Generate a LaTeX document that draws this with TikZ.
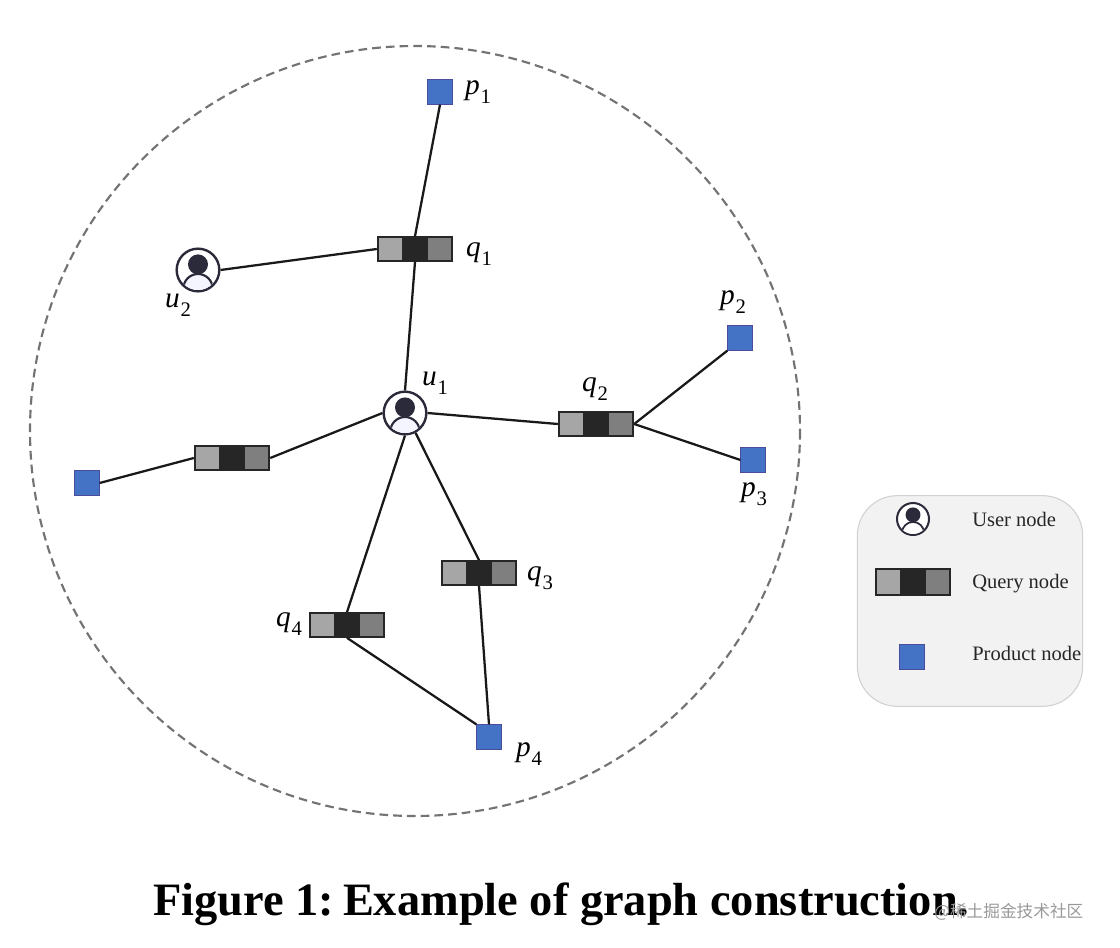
\documentclass[tikz,border=0pt]{standalone}
\usepackage{fontspec}
\setmainfont{Liberation Serif}
\newfontfamily\cjkwm{Noto Sans CJK SC}
\newcommand{\sublab}[2]{\textit{#1}\kern0.5pt\raisebox{-0.32em}{\fontsize{15.5}{17}\selectfont #2}}
\tikzset{
  x=0.75pt,y=-0.75pt,
  edge/.style={draw=black!90,line width=1.7pt},
  ring/.style={dash pattern=on 6.5pt off 3.8pt,line width=1.6pt,color=black!55},
  prodnode/.style={rectangle,draw=blue!45!black!70,line width=0.4pt,fill=prodblue,minimum size=18.5pt,inner sep=0pt},
  usernode/.style={circle,draw=userdark,line width=1.8pt,fill=white,minimum size=32pt,inner sep=0pt},
  querynode/.style={rectangle,draw=black!85,line width=1.3pt,minimum width=56pt,minimum height=18pt,inner sep=0pt,
    path picture={
      \fill[cellA] (path picture bounding box.south west) rectangle ([xshift=18.67pt]path picture bounding box.north west);
      \fill[cellB] ([xshift=18.67pt]path picture bounding box.south west) rectangle ([xshift=37.33pt]path picture bounding box.north west);
      \fill[cellC] ([xshift=37.33pt]path picture bounding box.south west) rectangle (path picture bounding box.north east);
    }},
  lab/.style={font=\fontsize{22}{24}\selectfont,inner sep=0pt},
  legtext/.style={font=\fontsize{15.4}{17}\selectfont,anchor=west,inner sep=0pt,text=black!85},
  captext/.style={font=\fontsize{34.8}{38}\selectfont\bfseries,anchor=west,inner sep=0pt},
  wmark/.style={font=\cjkwm\fontsize{12.5}{14}\selectfont,anchor=west,inner sep=0pt,text=black!40}
}
\definecolor{prodblue}{HTML}{4472C4}
\definecolor{userdark}{HTML}{2A2A3A}
\definecolor{cellA}{HTML}{A6A6A6}
\definecolor{cellB}{HTML}{262626}
\definecolor{cellC}{HTML}{7F7F7F}
\newcommand{\usericon}[1]{%
  \begin{scope}
    \clip (#1) circle (15pt);
    \fill[userdark] ($(#1)+(0,4.2pt)$) circle (7.5pt);
    \draw[userdark,line width=1.6pt,fill=blue!4!white] ($(#1)+(0,-14pt)$) circle (11pt);
  \end{scope}}
\usetikzlibrary{calc}
\begin{document}
\begin{tikzpicture}
\useasboundingbox (0,0) rectangle (1120,948);
\fill[white] (0,0) rectangle (1120,948);
\draw[ring] (415,431) ellipse (385 and 385);

\node[prodnode] (p1) at (440,92) {};
\node[prodnode] (p2) at (740,338) {};
\node[prodnode] (p3) at (753,460) {};
\node[prodnode] (p4) at (489,737) {};
\node[prodnode] (p5) at (87,483) {};
\node[usernode] (u1) at (405,413) {};
\node[usernode] (u2) at (198,270) {};
\node[querynode] (q1) at (415,249) {};
\node[querynode] (q2) at (596,424) {};
\node[querynode] (q3) at (479,573) {};
\node[querynode] (q4) at (347,625) {};
\node[querynode] (q5) at (232,458) {};

\draw[edge] (p1.south) -- (q1.north);
\draw[edge] (q1.south) -- (u1.north);
\draw[edge] (u2.east) -- (q1.west);
\draw[edge] (u1.east) -- (q2.west);
\draw[edge] (q2.east) -- (p2.south west);
\draw[edge] (q2.east) -- (p3.west);
\draw[edge] (u1.west) -- (q5.east);
\draw[edge] (q5.west) -- (p5.east);
\draw[edge] (u1.-62) -- (q3.north);
\draw[edge] (u1.south) -- (q4.north);
\draw[edge] (q3.south) -- (p4.north);
\draw[edge] (q4.south) -- (p4.north west);

\foreach \q in {q1,q2,q3,q4,q5}{
  \draw[black!85,line width=0.8pt] ($(\q.south west)!0.333!(\q.south east)$) -- ($(\q.north west)!0.333!(\q.north east)$);
  \draw[black!85,line width=0.8pt] ($(\q.south west)!0.667!(\q.south east)$) -- ($(\q.north west)!0.667!(\q.north east)$);
}
\usericon{u1}
\usericon{u2}

\node[lab] (lp1) at (478,92) {\sublab{p}{1}};
\node[lab] (lp2) at (733,302) {\sublab{p}{2}};
\node[lab] (lp3) at (754,494) {\sublab{p}{3}};
\node[lab] (lp4) at (529,754) {\sublab{p}{4}};
\node[lab] (lu1) at (435,383) {\sublab{u}{1}};
\node[lab] (lu2) at (178,305) {\sublab{u}{2}};
\node[lab] (lq1) at (479,254) {\sublab{q}{1}};
\node[lab] (lq2) at (595,389) {\sublab{q}{2}};
\node[lab] (lq3) at (540,578) {\sublab{q}{3}};
\node[lab] (lq4) at (289,624) {\sublab{q}{4}};

\node[rectangle,rounded corners=30pt,draw=black!18,line width=0.8pt,fill=black!5,minimum width=169pt,minimum height=158pt] (legend) at (970,601) {};
\node[usernode,minimum size=24pt,line width=1.5pt] (lu) at (913,519) {};
\begin{scope}
  \clip (lu) circle (11.2pt);
  \fill[userdark] ($(lu)+(0,3.1pt)$) circle (5.6pt);
  \draw[userdark,line width=1.3pt,fill=white] ($(lu)+(0,-10.5pt)$) circle (8.3pt);
\end{scope}
\node[querynode,minimum height=19.5pt] (lq) at (913,582) {};
\foreach \f in {0.333,0.667}
  \draw[black!85,line width=0.8pt] ($(lq.south west)!\f!(lq.south east)$) -- ($(lq.north west)!\f!(lq.north east)$);
\node[prodnode] (lpn) at (912,657) {};
\node[legtext] (t1) at (972,519) {User node};
\node[legtext] (t2) at (972,584) {Query node};
\node[legtext] (t3) at (972,653) {Product node};

\node[captext] (cap) at (153,904) {Figure 1:\kern-2pt\ Example of graph construction.};
\node[wmark] (wm) at (934,912) {@稀土掘金技术社区};
\end{tikzpicture}
\end{document}
